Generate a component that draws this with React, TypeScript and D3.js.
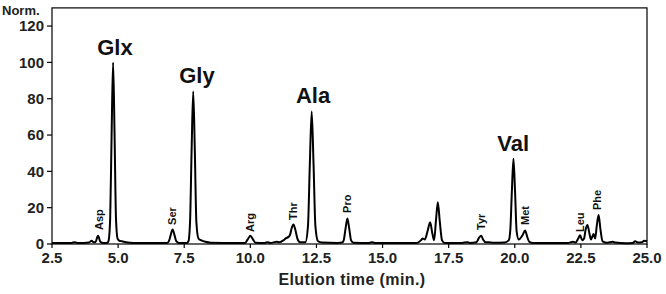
import React from 'react';
import * as d3 from 'd3';

// chromatogram trace, [elution time (min), normalised signal]
const trace: [number, number][] = [
  [2.5, 0.5], [3.0, 0.5], [3.25, 0.6], [3.35, 1.0], [3.45, 0.6], [3.7, 0.6],
  [3.9, 0.8], [4.0, 1.8], [4.08, 0.9], [4.15, 1.2], [4.24, 4.5], [4.33, 1.2],
  [4.45, 0.6], [4.6, 0.7],
  [4.64, 1.8], [4.7, 14], [4.755, 61], [4.81, 100], [4.865, 61], [4.92, 14],
  [4.98, 3], [5.05, 1.8], [5.15, 1.5], [5.3, 1.0], [5.6, 0.6], [6.5, 0.5],
  [6.85, 0.6], [6.92, 1.6], [6.99, 5], [7.06, 8], [7.13, 5], [7.2, 1.6], [7.3, 0.6],
  [7.6, 0.6], [7.66, 1.5], [7.72, 12], [7.78, 52], [7.84, 84], [7.9, 52], [7.96, 12],
  [8.04, 3], [8.15, 2], [8.3, 1.2], [8.5, 0.7], [9.5, 0.5],
  [9.8, 0.6], [9.9, 2.5], [10.0, 4.6], [10.1, 2.5], [10.2, 0.7],
  [10.55, 0.6], [10.65, 1.0], [10.75, 0.6], [11.0, 1.2], [11.1, 1.0], [11.25, 2.0],
  [11.35, 3.2], [11.45, 4], [11.5, 5], [11.56, 8.5], [11.63, 10.7], [11.7, 8],
  [11.78, 3], [11.88, 1],
  [12.08, 1], [12.18, 10], [12.25, 44], [12.32, 73], [12.39, 44], [12.46, 10],
  [12.56, 1.5], [12.7, 0.8], [13.3, 0.6],
  [13.47, 0.8], [13.53, 2], [13.6, 8.5], [13.67, 14], [13.74, 8.5], [13.81, 2], [13.9, 0.7],
  [14.5, 0.6], [14.6, 1.0], [14.7, 0.6], [16.3, 0.6],
  [16.45, 2], [16.52, 3], [16.6, 2.5], [16.7, 7], [16.8, 12], [16.88, 6], [16.95, 2],
  [17.02, 13], [17.09, 23], [17.16, 13], [17.25, 2], [17.35, 0.6],
  [18.0, 0.6], [18.2, 1.0], [18.3, 0.6],
  [18.55, 1], [18.65, 3.5], [18.73, 4.6], [18.8, 2.5], [18.9, 0.9], [19.0, 1.0], [19.2, 0.7],
  [19.6, 0.8], [19.77, 2], [19.83, 7.5], [19.89, 29], [19.95, 47], [20.01, 29], [20.07, 7],
  [20.15, 2.5], [20.3, 5], [20.39, 7.4], [20.47, 4], [20.55, 1.2], [20.7, 0.6],
  [22.0, 0.6], [22.2, 1.2], [22.3, 0.8], [22.4, 3], [22.47, 4.8], [22.55, 2], [22.62, 3],
  [22.68, 8], [22.75, 10.5], [22.82, 6], [22.88, 2.5], [22.93, 4], [22.98, 5.5], [23.04, 3],
  [23.1, 10], [23.17, 16], [23.24, 8], [23.32, 1.5], [23.5, 0.7], [23.7, 1.2], [23.8, 0.8],
  [24.2, 0.4], [24.45, 0.5], [24.55, 1.5], [24.65, 0.8], [24.8, 0.9], [24.9, 1.8], [25.0, 1.5],
];

// big labels: name, time, signal level of the baseline
const majorNames = ['Glx', 'Gly', 'Ala', 'Val'];
const majorTimes = [4.88, 7.98, 12.37, 19.94];
const majorLevels = [104, 88.6, 77.6, 51.2];

// small rotated labels
const minorNames = ['Asp', 'Ser', 'Arg', 'Thr', 'Pro', 'Tyr', 'Met', 'Leu', 'Phe'];
const minorTimes = [4.28, 7.04, 9.99, 11.61, 13.66, 18.73, 20.39, 22.47, 23.11];
const minorLevels = [7.7, 10.5, 6.6, 13.2, 17.1, 7.7, 10.5, 6.6, 18.7];

const xTicks = [2.5, 5, 7.5, 10, 12.5, 15, 17.5, 20, 22.5, 25];
const yTicks = [0, 20, 40, 60, 80, 100, 120];

const W = 666, H = 294;
const font = '"Liberation Sans", Arial, sans-serif';

export default function App() {
  const x = d3.scaleLinear().domain([2.5, 25]).range([52, 647]);
  const y = d3.scaleLinear().domain([0, 130]).range([244, 7.9]);
  const line = d3.line<[number, number]>()
    .x(d => x(d[0]))
    .y(d => y(d[1]))
    .curve(d3.curveMonotoneX);

  return (
    <svg width={W} height={H} style={{ position: 'absolute', left: 0, top: 0, background: '#fff' }}
      fontFamily={font} fontWeight="bold">
      {/* frame */}
      <rect x={x(2.5)} y={y(130)} width={x(25) - x(2.5)} height={y(0) - y(130)}
        fill="none" stroke="#000" strokeWidth={1.2} />
      {yTicks.map(t => (
        <g key={'y' + t}>
          <line x1={x(2.5) - 5} x2={x(2.5)} y1={y(t)} y2={y(t)} stroke="#000" strokeWidth={1.2} />
          <text x={x(2.5) - 8} y={y(t)} dy="0.35em" textAnchor="end" fontSize={15} fill="#222">{t}</text>
        </g>
      ))}
      {xTicks.map(t => (
        <g key={'x' + t}>
          <line x1={x(t)} x2={x(t)} y1={y(0)} y2={y(0) + 4} stroke="#000" strokeWidth={1.2} />
          <text x={x(t)} y={263} textAnchor="middle" fontSize={15} fill="#222">{t.toFixed(1)}</text>
        </g>
      ))}
      <text x={2} y={15} fontSize={13} fill="#222">Norm.</text>
      <text x={352} y={285} textAnchor="middle" fontSize={16} letterSpacing={0.4} fill="#222">Elution time (min.)</text>
      <path d={line(trace) ?? ''} fill="none" stroke="#000" strokeWidth={2} strokeLinejoin="round" />
      {majorNames.map((n, i) => (
        <text key={n} x={x(majorTimes[i])} y={y(majorLevels[i])} textAnchor="middle" fontSize={22} fill="#111">{n}</text>
      ))}
      {minorNames.map((n, i) => (
        <text key={n} transform={`translate(${x(minorTimes[i])},${y(minorLevels[i])}) rotate(-90)`}
          dy="0.35em" fontSize={11} fill="#111">{n}</text>
      ))}
    </svg>
  );
}
